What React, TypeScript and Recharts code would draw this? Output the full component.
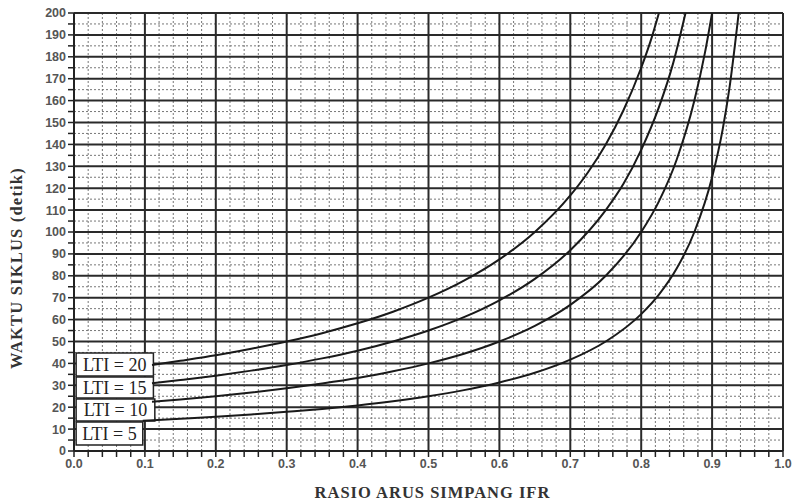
import React from 'react';
import { LineChart, Line, XAxis, YAxis, CartesianGrid, ReferenceArea } from 'recharts';

// IFR (x) values and cycle time (y) values
const lti20X = [0.11, 0.15, 0.2, 0.25, 0.3, 0.35, 0.4, 0.45, 0.5, 0.55, 0.6, 0.65, 0.7, 0.725, 0.75, 0.775, 0.8, 0.815, 0.825];
const lti20Y = [39.3, 41.2, 43.7, 46.7, 50, 53.8, 58.3, 63.6, 70, 77.8, 87.5, 100, 116.7, 127.3, 140, 155.6, 175, 189, 200];

const lti15X = [0.11, 0.15, 0.2, 0.25, 0.3, 0.35, 0.4, 0.45, 0.5, 0.55, 0.6, 0.65, 0.7, 0.75, 0.775, 0.8, 0.825, 0.845, 0.8625];
const lti15Y = [30.9, 32.4, 34.4, 36.7, 39.3, 42.3, 45.8, 50, 55, 61.1, 68.8, 78.6, 91.7, 110, 122, 137.5, 157, 177, 200];

const lti10X = [0.11, 0.15, 0.2, 0.25, 0.3, 0.35, 0.4, 0.45, 0.5, 0.55, 0.6, 0.65, 0.7, 0.75, 0.8, 0.825, 0.85, 0.875, 0.89, 0.9];
const lti10Y = [22.5, 23.5, 25, 26.7, 28.6, 30.8, 33.3, 36.4, 40, 44.4, 50, 57.1, 66.7, 80, 100, 114, 133, 160, 182, 200];

const lti5X = [0.097, 0.15, 0.2, 0.25, 0.3, 0.35, 0.4, 0.45, 0.5, 0.55, 0.6, 0.65, 0.7, 0.75, 0.8, 0.825, 0.85, 0.875, 0.9, 0.915, 0.925, 0.9375];
const lti5Y = [13.8, 14.7, 15.6, 16.7, 17.9, 19.2, 20.8, 22.7, 25, 27.8, 31.3, 35.7, 41.7, 50, 62.5, 71.4, 83.3, 100, 125, 147, 167, 200];

const seriesNames = ['LTI = 20', 'LTI = 15', 'LTI = 10', 'LTI = 5'];
// label boxes in data units
const boxX2 = [0.112, 0.112, 0.114, 0.097];
const boxY1 = [34.2, 24.2, 13.7, 2.7];
const boxY2 = [44.7, 33.8, 23.7, 13.2];
const boxX1 = 0.003;

const xTicks = Array.from({ length: 51 }, (_, i) => i / 50);
const yTicks = Array.from({ length: 41 }, (_, i) => i * 5);
const xMajor = xTicks.filter((_, i) => i % 5 === 0);
const xMinor = xTicks.filter((_, i) => i % 5 !== 0);
const yMajor = yTicks.filter((v) => v % 10 === 0);
const yMinor = yTicks.filter((v) => v % 10 !== 0);

const toData = (xs: number[], ys: number[]) => xs.map((x, i) => ({ x, y: ys[i] }));
const series = [toData(lti20X, lti20Y), toData(lti15X, lti15Y), toData(lti10X, lti10Y), toData(lti5X, lti5Y)];

const tickStyle = { fill: '#555', fontSize: 12.5, fontWeight: 'bold', fontFamily: 'Liberation Sans, Arial, sans-serif' };
const serif = 'Liberation Serif, Times New Roman, serif';

export default function App() {
  return (
    <div style={{ position: 'absolute', left: 0, top: 0, width: 805, height: 501, background: '#fff' }}>
      <LineChart width={805} height={501} margin={{ top: 13, right: 22, left: 0, bottom: 0 }}>
        <CartesianGrid verticalValues={xMinor} horizontalValues={yMinor} stroke="#777" strokeWidth={1} strokeDasharray="2 2" />
        <CartesianGrid verticalValues={xMajor} horizontalValues={yMajor} stroke="#2a2a2a" strokeWidth={2} />
        <XAxis
          type="number"
          dataKey="x"
          domain={[0, 1]}
          ticks={xTicks}
          interval={0}
          allowDataOverflow
          tickFormatter={(v: number) => (Math.round(v * 50) % 5 === 0 ? v.toFixed(1) : '')}
          tick={tickStyle}
          tickSize={6}
          tickLine={{ stroke: '#222', strokeWidth: 1.5 }}
          axisLine={{ stroke: '#222', strokeWidth: 2 }}
          height={50}
          label={(p: any) => {
            const vb = p.viewBox;
            return (
              <text x={vb.x + vb.width / 2 + 4} y={vb.y + 47} textAnchor="middle" fontFamily={serif} fontSize={16.5} letterSpacing={1} fontWeight="bold" fill="#333">
                RASIO ARUS SIMPANG IFR
              </text>
            );
          }}
        />
        <YAxis
          type="number"
          domain={[0, 200]}
          ticks={yTicks}
          interval={0}
          allowDataOverflow
          tickFormatter={(v: number) => (v % 10 === 0 ? String(v) : '')}
          tick={tickStyle}
          tickSize={6}
          tickLine={{ stroke: '#222', strokeWidth: 1.5 }}
          axisLine={{ stroke: '#222', strokeWidth: 2 }}
          width={74}
          label={(p: any) => {
            const vb = p.viewBox;
            const cx = 16;
            const cy = vb.y + vb.height / 2 + 36;
            return (
              <text x={cx} y={cy} transform={`rotate(-90 ${cx} ${cy})`} textAnchor="middle" dominantBaseline="central" fontFamily={serif} fontSize={16.5} letterSpacing={1.2} fontWeight="bold" fill="#333">
                WAKTU SIKLUS (detik)
              </text>
            );
          }}
        />
        {series.map((d, i) => (
          <Line
            key={seriesNames[i]}
            data={d}
            dataKey="y"
            type="monotone"
            stroke="#1a1a1a"
            strokeWidth={2}
            dot={false}
            isAnimationActive={false}
          />
        ))}
        {seriesNames.map((name, i) => (
          <ReferenceArea
            key={'box' + name}
            x1={boxX1}
            x2={boxX2[i]}
            y1={boxY1[i]}
            y2={boxY2[i]}
            fill="#fff"
            fillOpacity={1}
            stroke="#222"
            strokeWidth={1.5}
            label={{ value: name, position: 'center', fontFamily: serif, fontSize: 18, fill: '#222' }}
          />
        ))}
      </LineChart>
    </div>
  );
}
